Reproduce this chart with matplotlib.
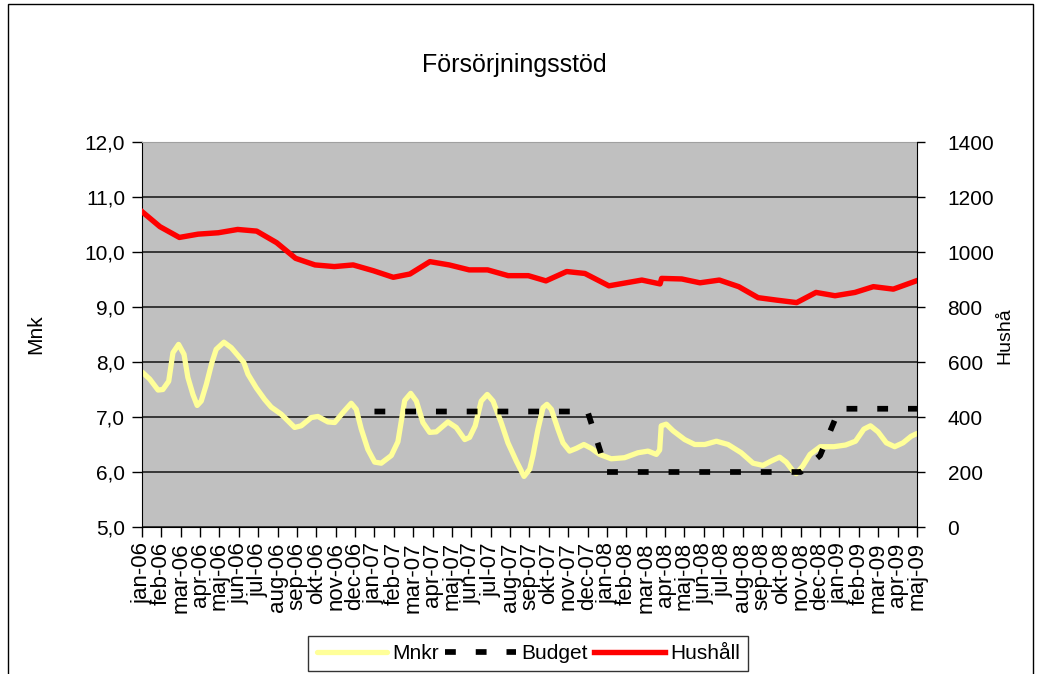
import numpy as np
import matplotlib
matplotlib.use("Agg")
import matplotlib.pyplot as plt
from matplotlib.patches import Rectangle

plt.rcParams['font.family'] = ['Liberation Sans', 'DejaVu Sans']

# månader på x-axeln
months = ['jan-06', 'feb-06', 'mar-06', 'apr-06', 'maj-06', 'jun-06', 'jul-06', 'aug-06', 'sep-06', 'okt-06',
          'nov-06', 'dec-06', 'jan-07', 'feb-07', 'mar-07', 'apr-07', 'maj-07', 'jun-07', 'jul-07', 'aug-07',
          'sep-07', 'okt-07', 'nov-07', 'dec-07', 'jan-08', 'feb-08', 'mar-08', 'apr-08', 'maj-08', 'jun-08',
          'jul-08', 'aug-08', 'sep-08', 'okt-08', 'nov-08', 'dec-08', 'jan-09', 'feb-09', 'mar-09', 'apr-09',
          'maj-09']

# Mnkr (datumaxel -> position i månader från jan-06)
mnkr_pos = [0.0, 0.40, 0.83, 1.08, 1.38, 1.60, 1.89, 2.17, 2.37, 2.63, 2.85, 3.06, 3.32, 3.61, 3.83, 4.23,
            4.61, 4.95, 5.26, 5.47, 5.90, 6.33, 6.67, 7.19, 7.88, 8.22, 8.74, 9.08, 9.60, 9.95, 10.37, 10.80,
            11.06, 11.32, 11.66, 12.01, 12.35, 12.87, 13.21, 13.56, 13.87, 14.16, 14.50, 14.85, 15.19, 15.79,
            16.22, 16.66, 16.91, 17.20, 17.51, 17.82, 18.12, 18.54, 18.89, 19.32, 19.72, 20.01, 20.18, 20.44,
            20.70, 20.90, 21.13, 21.47, 21.73, 22.07, 22.42, 22.81, 23.19, 23.62, 24.22, 24.91, 25.60, 26.12,
            26.55, 26.72, 26.80, 27.06, 27.41, 28.01, 28.53, 29.05, 29.65, 30.25, 30.93, 31.54, 32.05, 32.48,
            32.91, 33.25, 33.60, 33.77, 34.11, 34.48, 35.01, 35.71, 36.31, 36.83, 37.26, 37.60, 37.99, 38.42,
            38.85, 39.28, 39.70, 40.0]
mnkr_val = [7.82, 7.69, 7.49, 7.50, 7.65, 8.17, 8.32, 8.14, 7.72, 7.41, 7.21, 7.29, 7.59, 7.99, 8.23, 8.36,
            8.26, 8.12, 7.99, 7.78, 7.53, 7.32, 7.18, 7.05, 6.81, 6.84, 6.99, 7.01, 6.91, 6.90, 7.08, 7.25,
            7.14, 6.78, 6.41, 6.18, 6.16, 6.30, 6.55, 7.30, 7.43, 7.29, 6.90, 6.72, 6.73, 6.91,
            6.81, 6.59, 6.63, 6.84, 7.29, 7.41, 7.29, 6.90, 6.53, 6.20, 5.92, 6.05, 6.30, 6.78,
            7.17, 7.23, 7.14, 6.78, 6.53, 6.38, 6.43, 6.50, 6.43, 6.32, 6.24, 6.26, 6.35, 6.38,
            6.32, 6.40, 6.84, 6.87, 6.75, 6.59, 6.50, 6.50, 6.56, 6.50, 6.35, 6.16, 6.12, 6.20,
            6.27, 6.18, 6.02, 5.97, 6.11, 6.32, 6.46, 6.46, 6.49, 6.56, 6.78, 6.84, 6.73, 6.53,
            6.46, 6.53, 6.65, 6.70]

# Budget (Mnkr), saknas för 2006
budget = [np.nan] * 12 + [7.1] * 12 + [6.0] * 11 + [6.3] + [7.15] * 5

# Hushåll (höger axel)
hush_pos = [0, 0.93, 1.93, 2.9, 3.94, 4.94, 5.92, 6.95, 7.93, 8.93, 9.93, 10.9, 11.94, 12.97, 13.83, 14.86,
            15.86, 16.89, 17.84, 18.9, 19.94, 20.85, 21.92, 22.86, 24.1, 25.8, 26.74, 26.82, 27.86, 28.8,
            29.8, 30.8, 31.8, 32.76, 33.79, 34.79, 35.77, 36.8, 37.75, 38.78, 40]
hush_val = [1147, 1092, 1053, 1065, 1070, 1082, 1076, 1034, 977, 953, 947, 953, 932, 908, 920, 965,
            953, 935, 935, 914, 914, 895, 929, 922, 877, 898, 884, 904, 902, 888,
            898, 874, 834, 825, 816, 853, 841, 853, 874, 865, 896]

left_ticks = [5, 6, 7, 8, 9, 10, 11, 12]
right_ticks = [0, 200, 400, 600, 800, 1000, 1200, 1400]

fs = 15

fig = plt.figure(figsize=(10.4, 6.74), dpi=100)
ax = fig.add_axes([0.1365, 0.2181, 0.7452, 0.5712])
ax.set_facecolor('#C0C0C0')
ax.set_axisbelow(True)

x = np.arange(len(months))
l1, = ax.plot(mnkr_pos, mnkr_val, color='#FFFF99', lw=3.8, solid_joinstyle='round',
              solid_capstyle='round', label='Mnkr', zorder=2)
l2, = ax.plot(x, budget, color='black', lw=4.1, linestyle=(0, (1.9, 3.5)),
              dash_capstyle='butt', label='Budget', zorder=3)

ax.set_xlim(0, 40)
ax.set_ylim(5, 12)
ax.set_yticks(left_ticks)
ax.set_yticklabels(['{:.1f}'.format(v).replace('.', ',') for v in left_ticks], fontsize=fs)
ax.set_xticks(x)
ax.set_xticklabels(months, rotation=90, fontsize=16, ha='center', va='top')
ax.tick_params(axis='both', direction='out', length=7, width=1, color='black')
ax.tick_params(axis='y', pad=5)
ax.tick_params(axis='x', pad=4)
ax.grid(axis='y', color='#202020', lw=1.2)
for s in ['left', 'bottom']:
    ax.spines[s].set_color('black')
ax.spines['top'].set_color('#A0A0A0')
ax.spines['right'].set_visible(False)

ax2 = ax.twinx()
l3, = ax2.plot(hush_pos, hush_val, color='#FF0000', lw=3.9, solid_joinstyle='round', label='Hushåll')
ax2.set_ylim(0, 1400)
ax2.set_yticks(right_ticks)
ax2.set_yticklabels([str(v) for v in right_ticks], fontsize=fs)
ax2.tick_params(axis='y', direction='out', length=6, width=1, pad=16)
ax2.spines['right'].set_color('black')
ax2.spines['top'].set_visible(False)
ax2.spines['left'].set_visible(False)
ax2.spines['bottom'].set_visible(False)

fig.text(0.495, 0.903, 'Försörjningsstöd', ha='center', va='center', fontsize=18)
fig.text(0.034, 0.504, 'Mnk', rotation=90, ha='center', va='center', fontsize=fs)
fig.text(0.966, 0.5015, 'Hushå', rotation=90, ha='center', va='center', fontsize=14)

leg = fig.legend([l1, l2, l3], ['Mnkr', 'Budget', 'Hushåll'], loc='upper center',
                 bbox_to_anchor=(0.508, 0.057), ncol=3, fontsize=fs, frameon=True, fancybox=False,
                 edgecolor='black', handlelength=3.4, handletextpad=0.25, columnspacing=0.3,
                 borderpad=0.4, borderaxespad=0)
leg.get_frame().set_linewidth(1)

# ram runt hela diagrammet
fig.patches.append(Rectangle((8 / 1040, -0.1), 1025 / 1040, 1.1 - 4 / 674, transform=fig.transFigure,
                             fill=False, edgecolor='black', lw=1))

fig.savefig('out.png', dpi=100)
